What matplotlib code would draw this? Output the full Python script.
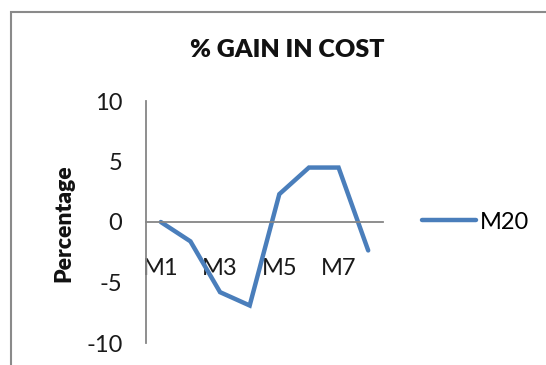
import matplotlib
matplotlib.use("Agg")
import matplotlib.pyplot as plt
from matplotlib.patches import Rectangle

categories = ["M1", "M2", "M3", "M4", "M5", "M6", "M7", "M8"]
values = [0.0, -1.6, -5.8, -6.9, 2.3, 4.5, 4.5, -2.35]
series_name = "M20"
y_ticks = [-10, -5, 0, 5, 10]
shown_labels = ["M1", "", "M3", "", "M5", "", "M7", ""]

plt.rcParams['font.family'] = ['Lato', 'DejaVu Sans']

W, H = 546, 365
fig = plt.figure(figsize=(W / 100, H / 100), dpi=100)
fig.patch.set_facecolor("white")

# outer chart border
fig.patches.append(Rectangle((11 / W, -0.1), 1.2, 1 - 12 / H + 0.1, transform=fig.transFigure,
                             fill=False, edgecolor="#8a8a8a", linewidth=1.5, clip_on=False))

ax = fig.add_axes([146 / W, 1 - 343 / H, (383 - 146) / W, (343 - 101) / H])
x = list(range(len(categories)))
ax.plot(x, values, color="#4A7EBB", linewidth=3.2, solid_capstyle="round",
        solid_joinstyle="miter", label=series_name)

ax.set_xlim(-0.5, len(categories) - 0.5)
ax.set_ylim(-10, 10)
ax.set_yticks(y_ticks)
ax.set_yticklabels([str(v) for v in y_ticks])
ax.set_xticks(x)
ax.set_xticklabels(shown_labels)

for s in ["top", "right"]:
    ax.spines[s].set_visible(False)
ax.spines["bottom"].set_position(("data", 0))
ax.spines["bottom"].set_color("#868686")
ax.spines["left"].set_color("#868686")
ax.spines["bottom"].set_linewidth(1.3)
ax.spines["left"].set_linewidth(1.3)

ax.tick_params(axis="y", length=0, pad=17, labelsize=17, labelcolor="#1a1a1a")
ax.tick_params(axis="x", length=0, pad=26, labelsize=17, labelcolor="#1a1a1a")
ax.set_facecolor("none")

fig.text(64 / W, 1 - 223 / H, "Percentage", rotation=90, fontsize=16.5, fontweight="heavy",
         ha="center", va="center", color="#111111")
fig.text(287 / W, 1 - 50 / H, "% GAIN IN COST", fontsize=18, fontweight="heavy",
         ha="center", va="center", color="#111111")

ax.legend(loc="center left", bbox_to_anchor=(422 / W, 1 - 222 / H), bbox_transform=fig.transFigure,
          frameon=False, fontsize=17, handlelength=2.3, handletextpad=0.15,
          borderpad=0, borderaxespad=0)

fig.savefig("out.png", dpi=100)
